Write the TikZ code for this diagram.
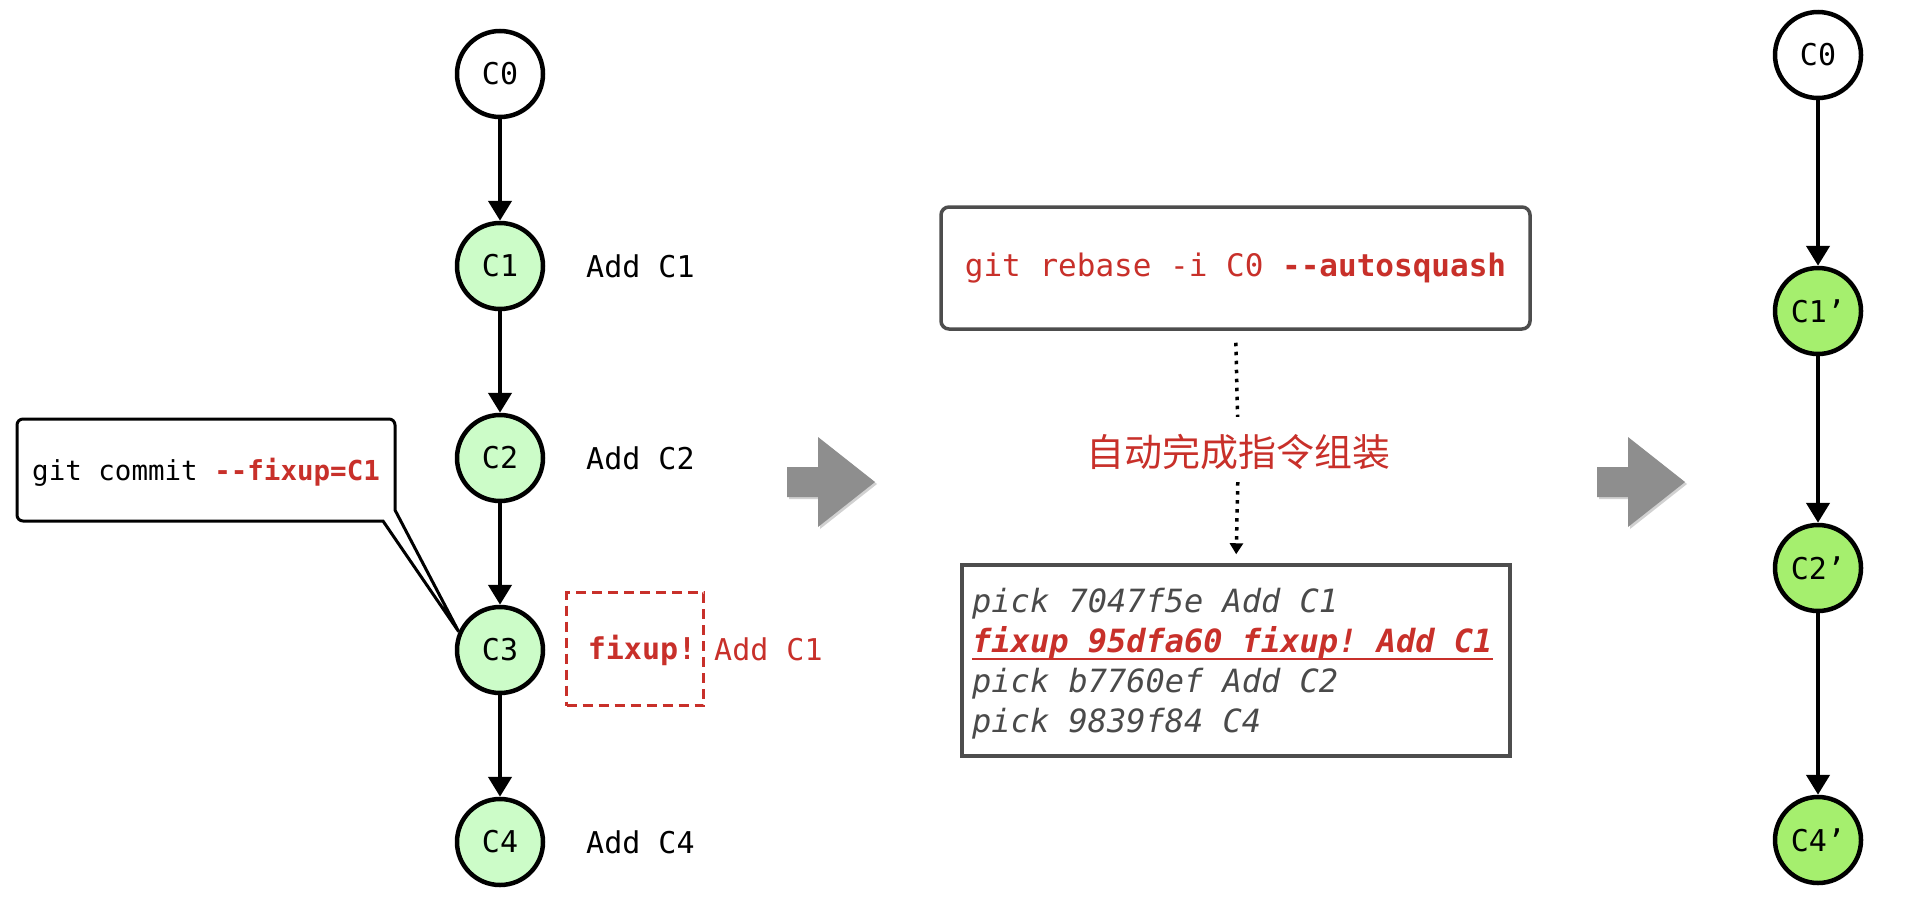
\documentclass[tikz,border=0pt]{standalone}
\usepackage{fontspec}
\setmonofont{DejaVu Sans Mono}
\newfontfamily\cjk{Noto Sans CJK SC}
\usetikzlibrary{arrows.meta}
\definecolor{gred}{HTML}{C8302A}
\definecolor{lgreen}{HTML}{CCFCC8}
\definecolor{bgreen}{HTML}{A5EF6E}
\definecolor{boxgray}{HTML}{4D4D4D}
\definecolor{arrgray}{HTML}{8E8E8E}
\definecolor{txtgray}{HTML}{4A4A4A}
\begin{document}
\begin{tikzpicture}[x=1pt,y=-1pt,
  commit/.style={circle, draw=black, line width=4.5pt, minimum size=86pt, inner sep=0pt, font=\ttfamily\fontsize{30}{36}\selectfont},
  old/.style={commit, fill=lgreen},
  new/.style={commit, fill=bgreen},
  basec/.style={commit, fill=white},
  link/.style={line width=4.5pt, -{Triangle[width=23pt,length=20pt]}},
  lbl/.style={anchor=west, inner sep=0pt, font=\ttfamily\fontsize{30}{36}\selectfont},
  bigarrow/.style={fill=arrgray, draw=none},
  shadowarrow/.style={fill=black!18, draw=none},
  todo/.style={anchor=base west, inner sep=0pt, font=\ttfamily\itshape\fontsize{32}{40}\selectfont, text=txtgray},
  dotline/.style={line width=3.5pt, dash pattern=on 3.5pt off 5.5pt},
  calloutline/.style={line width=3pt, fill=white},
]
\fill[white] (0,0) rectangle (1910,900);
\useasboundingbox (0,0) rectangle (1910,900);

% left chain
\node[basec] (a0) at (500,74) {C0};
\node[old] (a1) at (500,266) {C1};
\node[old] (a2) at (500,458) {C2};
\node[old] (a3) at (500,650) {C3};
\node[old] (a4) at (500,842) {C4};
\draw[link] (a0) -- (a1);
\draw[link] (a1) -- (a2);
\draw[link] (a2) -- (a3);
\draw[link] (a3) -- (a4);

\node[lbl] (l1) at (586,266) {Add C1};
\node[lbl] (l2) at (586,458) {Add C2};
\node[lbl] (l4) at (586,842) {Add C4};

\node[draw=gred, line width=3pt, dash pattern=on 10pt off 6pt, minimum width=137pt, minimum height=113pt] (fx) at (635,649) {};
\node[text=gred, inner sep=0pt, font=\ttfamily\bfseries\fontsize{30}{36}\selectfont] (fxt) at (642,650) {fixup!};
\node[lbl, text=gred] (l3) at ([xshift=9pt]fx.east) {Add C1};

% callout
\draw[calloutline] (17,470) [rounded corners=6pt] -- (17,419) -- (395,419) -- (395,470) [sharp corners] -- (395,510) -- (a3.156) -- (383,521) -- (300,521) [rounded corners=6pt] -- (17,521) -- cycle;
\node[anchor=base west, inner sep=0pt, font=\ttfamily\fontsize{27.5}{33}\selectfont] (cmt) at (32,480) {git commit \textcolor{gred}{\bfseries --fixup=C1}};

% big arrows
\fill[shadowarrow] (789,469) -- (820,469) -- (820,439) -- (877,484) -- (820,529) -- (820,499) -- (789,499) -- cycle;
\fill[bigarrow] (787,467) -- (818,467) -- (818,437) -- (875,482) -- (818,527) -- (818,497) -- (787,497) -- cycle;
\fill[shadowarrow] (1599,469) -- (1630,469) -- (1630,439) -- (1687,484) -- (1630,529) -- (1630,499) -- (1599,499) -- cycle;
\fill[bigarrow] (1597,467) -- (1628,467) -- (1628,437) -- (1685,482) -- (1628,527) -- (1628,497) -- (1597,497) -- cycle;

% middle
\node[draw=boxgray, line width=3.5pt, rounded corners=8pt, minimum width=589pt, minimum height=122pt, text=gred, font=\ttfamily\fontsize{31}{36}\selectfont] (reb) at (1235.5,268) {git rebase -i C0 \textbf{--autosquash}};
\node[anchor=base, inner sep=0pt, text height=33pt, text depth=5pt, text=gred, font=\cjk\fontsize{38}{44}\selectfont] (auto) at (1238,466) {自动完成指令组装};
\node[draw=boxgray, line width=3.5pt, minimum width=548pt, minimum height=191pt] (list) at (1236,660.5) {};
\draw[dotline, shorten <=12pt, shorten >=16pt] (reb.south) -- (auto.north);
\draw[dotline, shorten <=11pt, shorten >=9pt, -{Triangle[width=13pt,length=11pt]}] (auto.south) -- (list.north);

\node[todo] (t1) at (972,612) {pick 7047f5e Add C1};
\node[todo, text=gred, font=\ttfamily\bfseries\itshape\fontsize{32}{40}\selectfont] (t2) at (972,652) {fixup 95dfa60 fixup! Add C1};
\draw[gred, line width=2pt] ([yshift=-7pt]t2.base west) -- ([yshift=-7pt]t2.base east);
\node[todo] (t3) at (972,692) {pick b7760ef Add C2};
\node[todo] (t4) at (972,732) {pick 9839f84 C4};

% right chain
\node[basec] (b0) at (1818,55) {C0};
\node[new] (b1) at (1818,311) {C1’};
\node[new] (b2) at (1818,568) {C2’};
\node[new] (b4) at (1818,840) {C4’};
\draw[link] (b0) -- (b1);
\draw[link] (b1) -- (b2);
\draw[link] (b2) -- (b4);
\end{tikzpicture}
\end{document}
